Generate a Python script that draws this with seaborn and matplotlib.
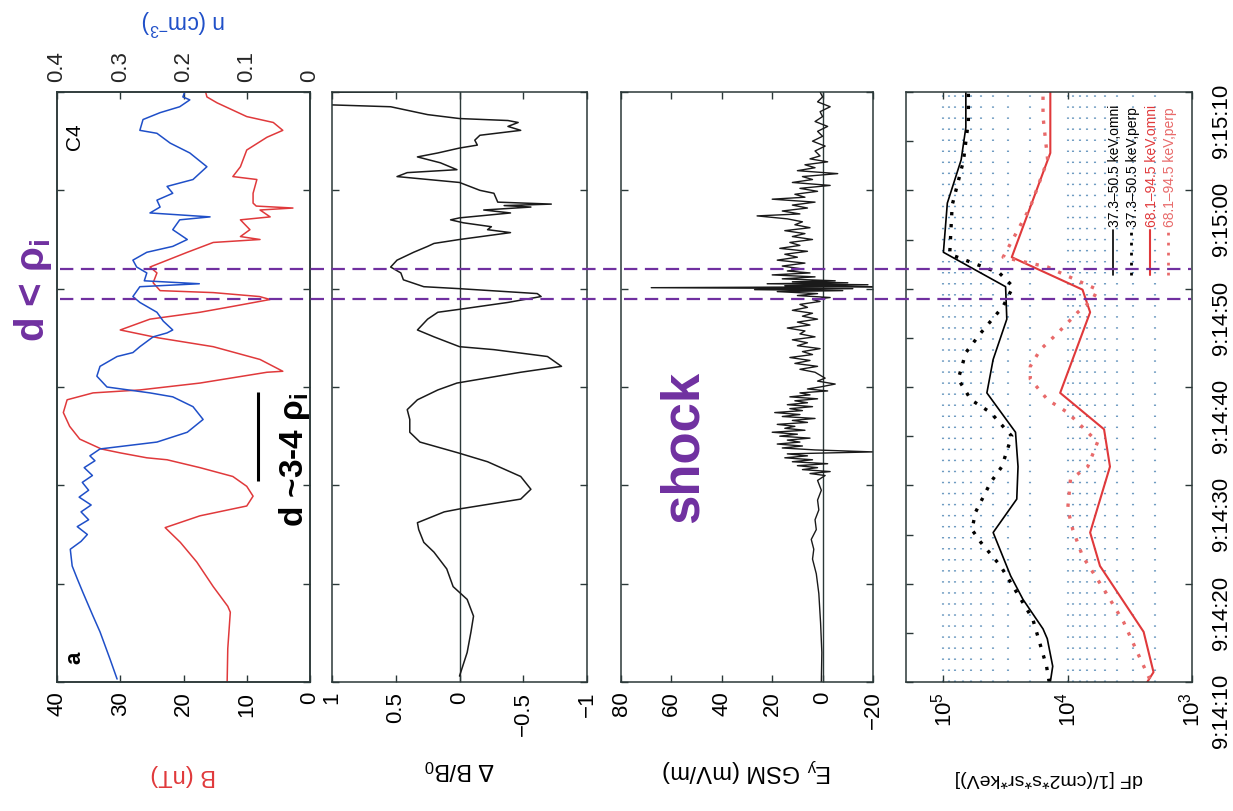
import numpy as np
import pandas as pd
import matplotlib
matplotlib.use("Agg")
import matplotlib.pyplot as plt
import matplotlib.transforms as mtransforms
from matplotlib.lines import Line2D
from matplotlib.ticker import (FixedLocator, FixedFormatter, NullFormatter,
                               NullLocator, MultipleLocator, LogFormatterSciNotation)
import seaborn as sns

# ---------------- data (time in s after 09:14:10) ----------------
time_ticks = [0, 10, 20, 30, 40, 50, 60]
time_labels = ["9:14:10", "9:14:20", "9:14:30", "9:14:40", "9:14:50", "9:15:00", "9:15:10"]
event_t = [39.0, 42.0]

# panel a: |B| (nT)
b_t = [0, 3.4, 7.1, 7.7, 9.7, 12.2, 14.2, 15.2, 15.7, 16.9,
       17.9, 18.9, 19.9, 20.9, 21.8, 22.6, 22.8, 23.3, 23.7, 24.7,
       26.0, 27.4, 28.7, 29.4, 29.7, 30.4, 31.5, 31.6, 32.8, 34.1,
       35.0, 35.8, 36.9, 37.6, 38.2, 38.9, 39.2, 39.6, 39.8, 40.6,
       41.6, 42.2, 43.7, 44.7, 45.0, 45.3, 46.0, 47.0, 47.3, 48.0,
       48.2, 48.4, 48.7, 49.7, 51.1, 51.4, 52.4, 54.1, 55.4, 56.1,
       56.9, 57.5, 58.9, 59.5, 60.0]
b_val = [13.1, 13.0, 12.6, 13.0, 15.3, 17.9, 20.5, 22.1, 22.9, 17.4,
         10.0, 9.0, 10.0, 12.2, 17.4, 22.6, 25.8, 30.0, 33.0, 36.4,
         38.0, 39.0, 38.4, 34.3, 26.9, 17.4, 6.8, 4.3, 7.9, 15.3,
         24.0, 30.0, 25.3, 17.4, 12.2, 6.3, 8.0, 15.3, 23.7, 24.8,
         24.2, 25.3, 19.4, 15.3, 7.9, 11.0, 9.5, 11.0, 6.3, 7.9,
         2.7, 8.5, 9.0, 9.0, 8.4, 12.2, 11.0, 10.0, 6.8, 4.3,
         5.8, 10.0, 14.7, 16.3, 16.5]
b_ticks = [40, 30, 20, 10, 0]

# panel a: density n (cm^-3)
n_t = [0.3, 2.3, 5.1, 6.7, 9.1, 10.5, 11.8, 13.5, 14.3, 15.0,
       15.8, 16.5, 17.3, 18.0, 18.8, 19.5, 20.3, 21.0, 21.8, 22.5,
       23.0, 23.7, 24.4, 25.4, 26.7, 28.0, 29.0, 29.4, 30.0, 31.1,
       32.1, 33.1, 33.5, 34.1, 35.1, 35.5, 35.8, 36.7, 37.6, 38.6,
       39.2, 40.2, 40.5, 40.8, 41.6, 42.2, 42.9, 43.7, 44.3, 45.0,
       46.0, 47.0, 47.3, 47.7, 48.3, 49.0, 49.7, 50.4, 51.1, 52.4,
       53.8, 54.8, 55.8, 56.1, 57.2, 57.9, 58.5, 59.2, 59.5, 60.0]
n_val = [0.305, 0.316, 0.332, 0.343, 0.359, 0.368, 0.376, 0.379, 0.362, 0.352,
         0.368, 0.350, 0.362, 0.346, 0.365, 0.350, 0.360, 0.344, 0.357, 0.340,
         0.348, 0.332, 0.242, 0.194, 0.169, 0.185, 0.217, 0.253, 0.321, 0.337,
         0.332, 0.305, 0.280, 0.269, 0.248, 0.226, 0.217, 0.232, 0.242, 0.269,
         0.280, 0.269, 0.175, 0.262, 0.258, 0.274, 0.280, 0.258, 0.217, 0.194,
         0.217, 0.206, 0.158, 0.253, 0.237, 0.242, 0.217, 0.226, 0.185, 0.163,
         0.190, 0.221, 0.242, 0.269, 0.264, 0.237, 0.206, 0.190, 0.201, 0.198]
n_ticks = [0.4, 0.3, 0.2, 0.1, 0]
n_ticklabels = ["0.4", "0.3", "0.2", "0.1", "0"]

# panel b: dB/B0
db_t = [0.6, 3.0, 5.1, 6.7, 8.4, 9.7, 11.5, 13.2, 14.2, 15.5,
        16.2, 17.3, 17.6, 18.6, 19.6, 20.9, 22.4, 23.3, 24.4, 25.4,
        26.7, 27.7, 28.7, 29.7, 30.4, 31.5, 32.1, 33.1, 33.8, 34.1,
        35.1, 35.8, 36.9, 37.6, 37.9, 38.6, 39.2, 39.5, 40.0, 40.2,
        40.9, 41.6, 42.2, 42.9, 43.7, 44.3, 44.6, 45.0, 45.7, 46.0,
        46.3, 46.7, 47.0, 47.2, 47.7, 48.0, 48.3, 48.45, 48.6, 48.8,
        49.7, 50.0, 50.8, 51.4, 51.8, 52.1, 52.8, 53.4, 53.8, 54.3,
        54.6, 55.1, 55.6, 56.1, 56.5, 56.9, 57.1, 57.3, 57.7, 58.5,
        58.85, 59.95, 60.0]
db_val = [0.0, -0.06, -0.09, -0.11, -0.06, 0.05, 0.10, 0.20, 0.28, 0.32,
          0.33, 0.12, 0.0, -0.48, -0.56, -0.48, -0.22, 0.01, 0.31, 0.39,
          0.39, 0.41, 0.33, 0.17, 0.02, -0.48, -0.80, -0.69, -0.27, 0.0,
          0.20, 0.33, 0.25, 0.17, 0.0, -0.38, -0.64, -0.61, 0.0, 0.28,
          0.44, 0.46, 0.54, 0.49, 0.36, 0.25, 0.20, 0.0, -0.40, -0.22,
          -0.25, -0.03, 0.07, 0.0, -0.40, -0.19, -0.56, -0.35, -0.72, -0.30,
          -0.27, -0.16, 0.0, 0.49, 0.41, 0.02, 0.15, 0.33, 0.17, 0.0,
          -0.14, -0.12, -0.16, -0.48, -0.38, -0.46, -0.38, 0.0, 0.25, 0.54,
          1.4, 1.4, 0.52]
db_ticks = [1, 0.5, 0, -0.5, -1]
db_ticklabels = ["1", "0.5", "0", "\u22120.5", "\u22121"]

# panel c: Ey GSM (mV/m)
ey_t = [0, 3, 6, 9, 11, 12.5, 13.5, 14.5, 15.5, 16.5,
        17.5, 18.5, 19.5, 20.5, 21.0, 21.2, 21.4, 21.6, 21.8, 22.0,
        22.2, 22.4, 22.6, 22.8, 23.0, 23.2, 23.4, 23.6, 23.8, 24.0,
        24.2, 24.4, 24.6, 24.8, 25.0, 25.2, 25.4, 25.6, 25.8, 26.0,
        26.2, 26.4, 26.6, 26.8, 27.0, 27.2, 27.4, 27.6, 27.8, 28.0,
        28.2, 28.4, 28.6, 28.8, 29.0, 29.2, 29.4, 29.6, 29.8, 30.0,
        30.3, 30.6, 30.9, 31.2, 31.5, 31.8, 32.1, 32.4, 32.7, 33.0,
        33.3, 33.6, 33.9, 34.2, 34.5, 34.8, 35.1, 35.4, 35.7, 36.0,
        36.3, 36.6, 36.9, 37.2, 37.5, 37.8, 38.1, 38.4, 38.7, 38.9,
        39.1, 39.3, 39.5, 39.7, 39.8, 39.9, 40.0, 40.1, 40.2, 40.3,
        40.4, 40.5, 40.6, 40.7, 40.8, 41.0, 41.2, 41.4, 41.6, 41.8,
        42.0, 42.3, 42.6, 42.9, 43.2, 43.5, 43.8, 44.1, 44.4, 44.7,
        45.0, 45.3, 45.6, 45.9, 46.2, 46.5, 46.8, 47.1, 47.4, 47.6,
        47.9, 48.2, 48.5, 48.8, 49.1, 49.3, 49.6, 49.9, 50.2, 50.5,
        50.8, 51.1, 51.4, 51.7, 52.0, 52.3, 52.6, 52.9, 53.2, 53.5,
        54.0, 54.5, 55.0, 55.5, 56.0, 56.5, 57.0, 57.5, 58.0, 58.5,
        59.0, 59.5, 60.0]
ey_val = [0.5, 0.3, 0.8, 1.5, 2.5, 4, 3.5, 4.5, 2.5, 3,
          1.5, 2, 0.5, 2, -1, 5, -3, 8, 2, 10,
          -2, 12, 4, 15, 6, 14, -20, 3, 16, 8,
          18, 9, 14, 5, 17, 10, 20, 7, 15, 11,
          18, 6, 12, 3, 16, 9, 19, 8, 13, 4,
          14, 6, 11, 2, 13, 5, 9, -2, 6, 1,
          -5, 2, -1, 1, 3, 9, 2, 11, 5, 13,
          4, 8, 1, 10, 6, 12, 3, 9, 7, 14,
          5, 10, 2, 8, 4, 12, 6, 9, 1, 4,
          -3, 10, 2, 18, -8, 27, -12, 68, -20, 15,
          -18, 22, -10, 12, -5, 16, 3, 20, 5, 14,
          8, 16, 7, 18, 10, 15, 6, 17, 9, 13,
          4, 12, 7, 15, 5, 11, 8, 14, 26, 9,
          16, 6, 12, 3, 20, 7, 11, 2, 9, -3,
          12, 4, 8, -6, 10, 3, 7, -2, 5, 1,
          3, -1, 4, 0, 2, -2, 3, 0, 1, -3,
          2, 0, 1]
ey_ticks = [80, 60, 40, 20, 0, -20]
ey_ticklabels = ["80", "60", "40", "20", "0", "\u221220"]

# panel d: differential flux
omni_lo_t = [0, 1.6, 4.4, 5.4, 8.4, 10.8, 15.2, 18.6, 21.9, 25.4,
             29.4, 32.8, 36.9, 40.2, 43.7, 48.7, 53.1, 56.4, 60]
omni_lo_v = [1.38e4, 1.32e4, 1.46e4, 1.58e4, 2.29e4, 2.88e4, 3.98e4, 2.57e4, 2.51e4, 2.63e4,
             4.47e4, 3.98e4, 3.09e4, 3.16e4, 1.0e5, 9.3e4, 7.2e4, 6.6e4, 6.6e4]
perp_lo_t = [0, 1.6, 6.4, 9.1, 11.8, 14.2, 15.5, 17.3, 20.3, 21.9,
             25.0, 27.4, 28.7, 30.8, 33.5, 35.5, 38.2, 40.2, 41.6, 43.5,
             48.5, 53.0, 57.0, 60]
perp_lo_v = [1.41e4, 1.48e4, 1.91e4, 2.57e4, 3.47e4, 5.0e4, 5.9e4, 5.5e4, 4.17e4, 3.39e4,
             2.82e4, 4.17e4, 6.0e4, 7.6e4, 6.6e4, 5.0e4, 3.31e4, 2.75e4, 3.55e4, 8.9e4,
             8.5e4, 6.9e4, 6.3e4, 6.3e4]
omni_hi_t = [0, 1.0, 5.1, 11.8, 15.2, 21.9, 25.7, 29.4, 37.6, 39.9, 43.2, 53.8, 60]
omni_hi_v = [2.29e3, 2.04e3, 2.45e3, 5.5e3, 6.6e3, 4.57e3, 5.1e3, 1.15e4, 6.6e3, 7.6e3,
             2.82e4, 1.38e4, 1.38e4]
perp_hi_t = [0.3, 3.0, 6.1, 9.4, 12.8, 15.5, 17.6, 20.6, 21.9, 24.4,
             27.4, 28.7, 30.8, 32.1, 33.8, 35.5, 37.6, 38.9, 39.9, 42.2,
             43.2, 48.3, 53.1, 57.5, 60]
perp_hi_v = [2.19e3, 2.75e3, 3.55e3, 5.1e3, 7.6e3, 9.1e3, 1.0e4, 9.5e3, 6.9e3, 5.75e3,
             1.0e4, 1.45e4, 2.0e4, 2.0e4, 1.66e4, 1.2e4, 8.3e3, 6.3e3, 5.75e3, 1.45e4,
             3.31e4, 2.0e4, 1.45e4, 1.58e4, 1.58e4]
flux_ticks = [1e5, 1e4, 1e3]
flux_grid = [2e3, 3e3, 4e3, 5e3, 6e3, 7e3, 8e3, 9e3, 1e4,
             2e4, 3e4, 4e4, 5e4, 6e4, 7e4, 8e4, 9e4, 1e5]
legend_labels = ["37.3\u201350.5 keV,omni", "37.3\u201350.5 keV,perp",
                 "68.1\u201394.5 keV,omni", "68.1\u201394.5 keV,perp"]

# scale bar (d ~ 3-4 rho_i) in panel a
scale_bar_t = [20.4, 29.5]
scale_bar_b = [8.2, 8.2]

# ---------------- style ----------------
sns.set_theme(style="ticks")
plt.rcParams["font.family"] = ["Liberation Sans", "DejaVu Sans"]
plt.rcParams["mathtext.fontset"] = "custom"
plt.rcParams["mathtext.rm"] = "Liberation Sans"
plt.rcParams["mathtext.it"] = "Liberation Sans:italic"
plt.rcParams["mathtext.bf"] = "Liberation Sans:bold"

RED = "#e0393b"
RED_LIGHT = "#e86a6a"
BLUE = "#1f4fc8"
PURPLE = "#7030a0"
AXC = "#2b3838"
GRIDC = "#6f9cc2"
W, H = 1233, 811
DOTTED = (0, (1.0, 2.6))


def rect(x0, x1, y0=92, y1=682):
    return [x0 / W, 1 - y1 / H, (x1 - x0) / W, (y1 - y0) / H]


fig = plt.figure(figsize=(W / 100, H / 100), dpi=100)
ax1 = fig.add_axes(rect(57, 310))
ax2 = fig.add_axes(rect(332, 587))
ax3 = fig.add_axes(rect(621, 873))
ax4 = fig.add_axes(rect(906, 1192))
ax4.set_xscale("log")


def base(ax):
    ax.set_facecolor("white")
    ax.grid(False)
    for s in ax.spines.values():
        s.set_color(AXC)
        s.set_linewidth(1.1)
        s.set_visible(True)
    ax.set_ylim(0, 60)
    ax.yaxis.set_major_locator(FixedLocator(time_ticks))
    ax.yaxis.set_major_formatter(NullFormatter())
    ax.tick_params(axis="both", which="both", direction="in", length=5, width=1.0,
                   color=AXC, labelsize=16, labelcolor="black")
    ax.tick_params(axis="y", left=True, right=True)
    ax.tick_params(axis="x", labelrotation=90, pad=7, top=True, bottom=True)
    ax.set_ylabel("")


def xlabel(ax, text, color, y, size=17):
    ax.set_xlabel(text, rotation=180, color=color, fontsize=size, va="center", ha="center")
    ax.xaxis.set_label_coords(0.5, y)


# ---- panel a ----
sns.lineplot(x=b_val, y=b_t, orient="y", estimator=None, sort=False,
             color=RED, lw=1.1, ax=ax1)
ax1.plot(scale_bar_b, scale_bar_t, color="black", lw=2.2, clip_on=False,
         solid_capstyle="butt")
ax1t = ax1.twiny()
sns.lineplot(x=n_val, y=n_t, orient="y", estimator=None, sort=False,
             color=BLUE, lw=1.1, ax=ax1t)
base(ax1)
ax1.set_xlim(40, 0)
ax1.xaxis.set_major_locator(FixedLocator(b_ticks))
ax1.xaxis.set_major_formatter(FixedFormatter([str(v) for v in b_ticks]))
ax1.tick_params(axis="x", top=False, labeltop=False)
xlabel(ax1, "B (nT)", RED, -0.158, 17)
ax1t.set_xlim(0.4, 0)
ax1t.set_ylim(0, 60)
ax1t.xaxis.set_major_locator(FixedLocator(n_ticks))
ax1t.xaxis.set_major_formatter(FixedFormatter(n_ticklabels))
ax1t.tick_params(axis="x", which="both", direction="in", length=5, width=1.0, color=AXC,
                 top=True, bottom=False, labeltop=True, labelbottom=False,
                 labelrotation=90, labelsize=16, pad=7)
for s in ax1t.spines.values():
    s.set_color(AXC)
    s.set_linewidth(1.1)
ax1t.set_xlabel("n (cm$^{-3}$)", rotation=180, color=BLUE, fontsize=16.5, va="center", ha="center")
ax1t.xaxis.set_label_coords(0.5, 1.119)
ax1t.set_ylabel("")
ax1.text(0.071, 0.924, "C4", transform=ax1.transAxes, rotation=90, fontsize=15,
         ha="center", va="center", color="black")
ax1.text(0.071, 0.041, "a", transform=ax1.transAxes, rotation=90, fontsize=16,
         fontweight="bold", ha="center", va="center", color="black")

# ---- panel b ----
ax2.axvline(0, color=AXC, lw=1.0)
sns.lineplot(x=db_val, y=db_t, orient="y", estimator=None, sort=False,
             color="#1a1a1a", lw=1.1, ax=ax2)
base(ax2)
ax2.set_xlim(1, -1)
ax2.xaxis.set_major_locator(FixedLocator(db_ticks))
ax2.xaxis.set_major_formatter(FixedFormatter(db_ticklabels))
xlabel(ax2, r"$\Delta$ B/B$_0$", "black", -0.149, 17)

# ---- panel c ----
ax3.axvline(0, color=AXC, lw=1.0)
sns.lineplot(x=ey_val, y=ey_t, orient="y", estimator=None, sort=False,
             color="#1a1a1a", lw=1.0, ax=ax3)
base(ax3)
ax3.set_xlim(80, -20)
ax3.xaxis.set_major_locator(FixedLocator(ey_ticks))
ax3.xaxis.set_major_formatter(FixedFormatter(ey_ticklabels))
xlabel(ax3, r"E$_\mathregular{y}$ GSM (mV/m)", "black", -0.149, 17)

# ---- panel d ----
for g in flux_grid:
    ax4.axvline(g, color=GRIDC, linestyle=(0, (0.7, 4.6)), lw=1.5, zorder=0.5)
series = [
    (omni_lo_v, omni_lo_t, "black", "-", 1.2),
    (perp_lo_v, perp_lo_t, "black", DOTTED, 2.4),
    (omni_hi_v, omni_hi_t, RED, "-", 1.5),
    (perp_hi_v, perp_hi_t, RED_LIGHT, DOTTED, 2.4),
]
for v, t, c, ls, lw in series:
    sns.lineplot(x=v, y=t, orient="y", estimator=None, sort=False,
                 color=c, lw=lw, linestyle=ls, ax=ax4)
base(ax4)
ax4.set_xlim(2e5, 1e3)
ax4.xaxis.set_major_locator(FixedLocator(flux_ticks))
ax4.xaxis.set_major_formatter(LogFormatterSciNotation())
ax4.xaxis.set_minor_locator(NullLocator())
ax4.yaxis.set_minor_locator(MultipleLocator(5))
ax4.yaxis.set_major_formatter(FixedFormatter(time_labels))
ax4.tick_params(axis="y", labelleft=False, labelright=True, labelrotation=90, pad=14,
                labelsize=16)
xlabel(ax4, "dF [1/(cm2*s*sr*keV)]", "black", -0.163, 14)

# manual legend (rotated)
leg_x = [0.731, 0.794, 0.860, 0.923]
leg_c = ["black", "black", RED, RED_LIGHT]
leg_ls = ["-", DOTTED, "-", DOTTED]
leg_lw = [1.2, 2.0, 1.5, 2.0]
for x, lab, c, ls, lw in zip(leg_x, legend_labels, leg_c, leg_ls, leg_lw):
    ax4.plot([x - 0.008, x - 0.008], [0.690, 0.766], transform=ax4.transAxes,
             color=c, linestyle=ls, lw=lw)
    ax4.text(x, 0.771, lab, transform=ax4.transAxes, rotation=90, fontsize=10,
             ha="center", va="bottom", color=c)

# event lines across all panels
trans = mtransforms.blended_transform_factory(fig.transFigure, ax4.transData)
for et in event_t:
    fig.add_artist(Line2D([60 / W, 1191 / W], [et, et], transform=trans,
                          color=PURPLE, lw=1.6, linestyle=(0, (6.0, 3.4))))

# annotations
fig.text(33 / W, 1 - 290 / H, r"d < $\mathbf{\rho_i}$", rotation=90, ha="center",
         va="center", fontsize=29, fontweight="bold", color=PURPLE)
fig.text(295 / W, 1 - 460 / H, r"d ~3-4 $\mathbf{\rho_i}$", rotation=90, ha="center",
         va="center", fontsize=24, fontweight="bold", color="black")
fig.text(684 / W, 1 - 447 / H, "shock", rotation=90, ha="center", va="center",
         fontsize=38, fontweight="bold", color=PURPLE)

fig.savefig("out.png", dpi=100, facecolor="white")
